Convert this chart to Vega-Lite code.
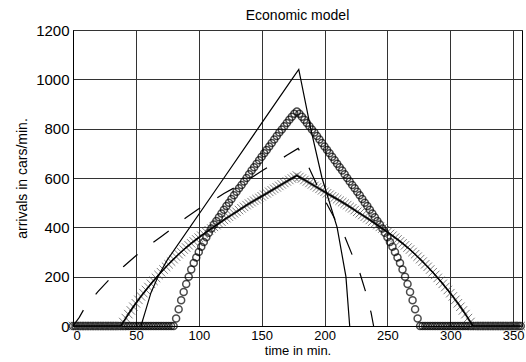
{
"$schema": "https://vega.github.io/schema/vega-lite/v6.json",
"autosize": {"type": "none"},
"width": 449, "height": 296,
"padding": {"left": 73, "top": 30, "right": 4, "bottom": 36},
"background": "white",
"title": {"text": "Economic model", "fontSize": 14, "fontWeight": "normal", "font": "Liberation Sans", "color": "black", "offset": 0, "anchor": "middle"},
"config": {"view": {"stroke": "black", "strokeWidth": 1}, "axis": {"labelFont": "Liberation Sans", "titleFont": "Liberation Sans", "labelColor": "black", "titleColor": "black", "titleFontWeight": "normal", "gridColor": "#333", "gridOpacity": 1, "gridWidth": 1, "domainColor": "black", "ticks": false}},
"datasets": {
"solid": [{"t":54,"v":0},{"t":57,"v":50},{"t":62,"v":135},{"t":68,"v":205},{"t":75,"v":268},{"t":120,"v":600},{"t":147,"v":800},{"t":174,"v":1000},{"t":179.5,"v":1040},{"t":189,"v":800},{"t":198,"v":600},{"t":210,"v":400},{"t":217,"v":200},{"t":220,"v":0}],
"dashed": [{"t":0,"v":0},{"t":5,"v":35},{"t":10,"v":80},{"t":20,"v":140},{"t":30,"v":195},{"t":40,"v":240},{"t":50,"v":285},{"t":60,"v":325},{"t":70,"v":362},{"t":80,"v":400},{"t":90,"v":440},{"t":100,"v":475},{"t":110,"v":505},{"t":120,"v":537},{"t":130,"v":565},{"t":140,"v":595},{"t":150,"v":628},{"t":160,"v":660},{"t":170,"v":692},{"t":179,"v":720},{"t":185,"v":670},{"t":195,"v":560},{"t":208,"v":436},{"t":215,"v":376},{"t":222,"v":288},{"t":228,"v":216},{"t":233,"v":133},{"t":237,"v":54},{"t":239,"v":0}],
"circles": [{"t":0,"v":0},{"t":2,"v":0},{"t":4,"v":0},{"t":6,"v":0},{"t":8,"v":0},{"t":10,"v":0},{"t":12,"v":0},{"t":14,"v":0},{"t":16,"v":0},{"t":18,"v":0},{"t":20,"v":0},{"t":22,"v":0},{"t":24,"v":0},{"t":26,"v":0},{"t":28,"v":0},{"t":30,"v":0},{"t":32,"v":0},{"t":34,"v":0},{"t":36,"v":0},{"t":38,"v":0},{"t":40,"v":0},{"t":42,"v":0},{"t":44,"v":0},{"t":46,"v":0},{"t":48,"v":0},{"t":50,"v":0},{"t":52,"v":0},{"t":54,"v":0},{"t":56,"v":0},{"t":58,"v":0},{"t":60,"v":0},{"t":62,"v":0},{"t":64,"v":0},{"t":66,"v":0},{"t":68,"v":0},{"t":70,"v":0},{"t":72,"v":0},{"t":74,"v":0},{"t":76,"v":0},{"t":78,"v":0},{"t":80,"v":0},{"t":82,"v":30},{"t":84,"v":68},{"t":86,"v":104},{"t":88,"v":138},{"t":90,"v":170},{"t":92,"v":200},{"t":94,"v":229},{"t":96,"v":255},{"t":98,"v":278},{"t":100,"v":300},{"t":102,"v":321},{"t":104,"v":341},{"t":106,"v":360},{"t":108,"v":378},{"t":110,"v":395},{"t":112,"v":411},{"t":114,"v":426},{"t":116,"v":441},{"t":118,"v":456},{"t":120,"v":471},{"t":122,"v":486},{"t":124,"v":500},{"t":126,"v":515},{"t":128,"v":530},{"t":130,"v":544},{"t":132,"v":558},{"t":134,"v":572},{"t":136,"v":586},{"t":138,"v":600},{"t":140,"v":615},{"t":142,"v":630},{"t":144,"v":644},{"t":146,"v":658},{"t":148,"v":672},{"t":150,"v":686},{"t":152,"v":700},{"t":154,"v":714},{"t":156,"v":728},{"t":158,"v":742},{"t":160,"v":756},{"t":162,"v":770},{"t":164,"v":784},{"t":166,"v":797},{"t":168,"v":810},{"t":170,"v":823},{"t":172,"v":836},{"t":174,"v":848},{"t":176,"v":860},{"t":178,"v":870},{"t":180,"v":860},{"t":182,"v":848},{"t":184,"v":836},{"t":186,"v":823},{"t":188,"v":810},{"t":190,"v":797},{"t":192,"v":784},{"t":194,"v":770},{"t":196,"v":756},{"t":198,"v":742},{"t":200,"v":728},{"t":202,"v":714},{"t":204,"v":700},{"t":206,"v":686},{"t":208,"v":672},{"t":210,"v":658},{"t":212,"v":644},{"t":214,"v":630},{"t":216,"v":615},{"t":218,"v":600},{"t":220,"v":586},{"t":222,"v":572},{"t":224,"v":558},{"t":226,"v":544},{"t":228,"v":530},{"t":230,"v":515},{"t":232,"v":500},{"t":234,"v":486},{"t":236,"v":471},{"t":238,"v":456},{"t":240,"v":441},{"t":242,"v":426},{"t":244,"v":411},{"t":246,"v":395},{"t":248,"v":378},{"t":250,"v":360},{"t":252,"v":341},{"t":254,"v":321},{"t":256,"v":300},{"t":258,"v":278},{"t":260,"v":255},{"t":262,"v":229},{"t":264,"v":200},{"t":266,"v":170},{"t":268,"v":138},{"t":270,"v":104},{"t":272,"v":68},{"t":274,"v":30},{"t":276,"v":0},{"t":278,"v":0},{"t":280,"v":0},{"t":282,"v":0},{"t":284,"v":0},{"t":286,"v":0},{"t":288,"v":0},{"t":290,"v":0},{"t":292,"v":0},{"t":294,"v":0},{"t":296,"v":0},{"t":298,"v":0},{"t":300,"v":0},{"t":302,"v":0},{"t":304,"v":0},{"t":306,"v":0},{"t":308,"v":0},{"t":310,"v":0},{"t":312,"v":0},{"t":314,"v":0},{"t":316,"v":0},{"t":318,"v":0},{"t":320,"v":0},{"t":322,"v":0},{"t":324,"v":0},{"t":326,"v":0},{"t":328,"v":0},{"t":330,"v":0},{"t":332,"v":0},{"t":334,"v":0},{"t":336,"v":0},{"t":338,"v":0},{"t":340,"v":0},{"t":342,"v":0},{"t":344,"v":0},{"t":346,"v":0},{"t":348,"v":0},{"t":350,"v":0},{"t":352,"v":0},{"t":354,"v":0},{"t":356,"v":0}],
"crosses": [{"t":0,"v":0},{"t":2,"v":0},{"t":4,"v":0},{"t":6,"v":0},{"t":8,"v":0},{"t":10,"v":0},{"t":12,"v":0},{"t":14,"v":0},{"t":16,"v":0},{"t":18,"v":0},{"t":20,"v":0},{"t":22,"v":0},{"t":24,"v":0},{"t":26,"v":0},{"t":28,"v":0},{"t":30,"v":0},{"t":32,"v":0},{"t":34,"v":0},{"t":36,"v":0},{"t":38,"v":0},{"t":40,"v":16},{"t":42,"v":32},{"t":44,"v":48},{"t":46,"v":63},{"t":48,"v":78},{"t":50,"v":92},{"t":52,"v":106},{"t":54,"v":120},{"t":56,"v":133},{"t":58,"v":146},{"t":60,"v":158},{"t":62,"v":171},{"t":64,"v":183},{"t":66,"v":195},{"t":68,"v":207},{"t":70,"v":218},{"t":72,"v":229},{"t":74,"v":240},{"t":76,"v":250},{"t":78,"v":261},{"t":80,"v":271},{"t":82,"v":281},{"t":84,"v":291},{"t":86,"v":300},{"t":88,"v":310},{"t":90,"v":318},{"t":92,"v":327},{"t":94,"v":335},{"t":96,"v":343},{"t":98,"v":351},{"t":100,"v":358},{"t":102,"v":366},{"t":104,"v":373},{"t":106,"v":381},{"t":108,"v":388},{"t":110,"v":395},{"t":112,"v":402},{"t":114,"v":409},{"t":116,"v":416},{"t":118,"v":423},{"t":120,"v":430},{"t":122,"v":437},{"t":124,"v":443},{"t":126,"v":450},{"t":128,"v":457},{"t":130,"v":463},{"t":132,"v":470},{"t":134,"v":477},{"t":136,"v":483},{"t":138,"v":490},{"t":140,"v":496},{"t":142,"v":502},{"t":144,"v":508},{"t":146,"v":514},{"t":148,"v":520},{"t":150,"v":526},{"t":152,"v":532},{"t":154,"v":538},{"t":156,"v":544},{"t":158,"v":550},{"t":160,"v":556},{"t":162,"v":562},{"t":164,"v":568},{"t":166,"v":574},{"t":168,"v":580},{"t":170,"v":586},{"t":172,"v":592},{"t":174,"v":598},{"t":176,"v":604},{"t":178,"v":610},{"t":180,"v":604},{"t":182,"v":598},{"t":184,"v":592},{"t":186,"v":586},{"t":188,"v":580},{"t":190,"v":574},{"t":192,"v":568},{"t":194,"v":562},{"t":196,"v":556},{"t":198,"v":550},{"t":200,"v":544},{"t":202,"v":538},{"t":204,"v":532},{"t":206,"v":526},{"t":208,"v":520},{"t":210,"v":514},{"t":212,"v":508},{"t":214,"v":502},{"t":216,"v":496},{"t":218,"v":490},{"t":220,"v":483},{"t":222,"v":477},{"t":224,"v":470},{"t":226,"v":463},{"t":228,"v":457},{"t":230,"v":450},{"t":232,"v":443},{"t":234,"v":437},{"t":236,"v":430},{"t":238,"v":423},{"t":240,"v":416},{"t":242,"v":409},{"t":244,"v":402},{"t":246,"v":395},{"t":248,"v":388},{"t":250,"v":381},{"t":252,"v":373},{"t":254,"v":366},{"t":256,"v":358},{"t":258,"v":351},{"t":260,"v":343},{"t":262,"v":335},{"t":264,"v":327},{"t":266,"v":318},{"t":268,"v":310},{"t":270,"v":300},{"t":272,"v":291},{"t":274,"v":281},{"t":276,"v":271},{"t":278,"v":261},{"t":280,"v":250},{"t":282,"v":240},{"t":284,"v":229},{"t":286,"v":218},{"t":288,"v":207},{"t":290,"v":195},{"t":292,"v":183},{"t":294,"v":171},{"t":296,"v":158},{"t":298,"v":146},{"t":300,"v":133},{"t":302,"v":120},{"t":304,"v":106},{"t":306,"v":92},{"t":308,"v":78},{"t":310,"v":63},{"t":312,"v":48},{"t":314,"v":32},{"t":316,"v":16},{"t":318,"v":0},{"t":320,"v":0},{"t":322,"v":0},{"t":324,"v":0},{"t":326,"v":0},{"t":328,"v":0},{"t":330,"v":0},{"t":332,"v":0},{"t":334,"v":0},{"t":336,"v":0},{"t":338,"v":0},{"t":340,"v":0},{"t":342,"v":0},{"t":344,"v":0},{"t":346,"v":0},{"t":348,"v":0},{"t":350,"v":0},{"t":352,"v":0},{"t":354,"v":0},{"t":356,"v":0}]
},
"encoding": {
"x": {"field": "t", "type": "quantitative", "scale": {"domain": [0, 357], "nice": false, "zero": false}, "axis": {"values": [0,50,100,150,200,250,300,350], "title": "time in min.", "labelFontSize": 13, "titleFontSize": 13, "labelPadding": 3, "titlePadding": 2, "grid": true}},
"y": {"field": "v", "type": "quantitative", "scale": {"domain": [0, 1200], "nice": false}, "axis": {"values": [0,200,400,600,800,1000,1200], "format": "d", "title": "arrivals in cars/min.", "labelFontSize": 15, "titleFontSize": 14, "labelPadding": 4, "titlePadding": 6, "grid": true}}
},
"layer": [
{"data": {"name": "circles"}, "mark": {"type": "point", "shape": "circle", "filled": false, "stroke": "black", "strokeWidth": 1.5, "size": 49, "clip": false}},
{"data": {"name": "crosses"}, "mark": {"type": "point", "shape": "M-1,-1L1,1M-1,1L1,-1", "filled": false, "stroke": "#444", "strokeWidth": 1, "size": 72, "clip": false}},
{"data": {"name": "crosses"}, "mark": {"type": "line", "color": "black", "strokeWidth": 1.5}},
{"data": {"name": "solid"}, "mark": {"type": "line", "color": "black", "strokeWidth": 1.2}},
{"data": {"name": "dashed"}, "mark": {"type": "line", "color": "black", "strokeWidth": 1.2, "strokeDash": [19, 20]}}
]
}
